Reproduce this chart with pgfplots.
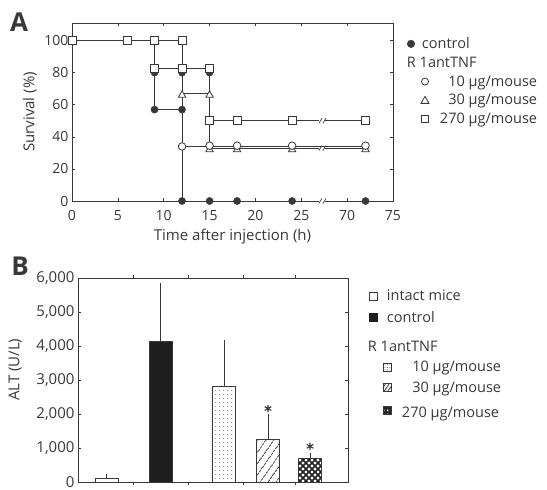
\documentclass[border=0pt]{standalone}
\usepackage{fontspec}
\setmainfont{Open Sans}
\usepackage{pgfplots}
\pgfplotsset{compat=1.18}
\usetikzlibrary{patterns,patterns.meta}
\definecolor{ink}{gray}{0.22}
\newcommand\ls{\rule[-3.5pt]{0pt}{13.5pt}}
\newcommand\lbox[1]{\path[draw=none,fill=none] (0pt,-5pt) rectangle (#1,5pt);}
\begin{document}
\begin{tikzpicture}
\path[use as bounding box] (0pt,0pt) rectangle (547pt,-490pt);
\node[font=\fontsize{26}{28}\selectfont\bfseries, text=ink] at (19pt,-22pt) {A};
\node[font=\fontsize{26}{28}\selectfont\bfseries, text=ink] at (20pt,-266pt) {B};
% ---------------- Panel A
\begin{axis}[
  at={(72pt,-201pt)}, anchor=south west, scale only axis,
  width=321pt, height=178pt,
  xmin=0, xmax=35, ymin=0, ymax=111,
  xtick={0,5,...,35}, xticklabels={0,5,10,15,20,25,70,75},
  ytick={0,20,...,100},
  tick align=inside, major tick length=3pt,
  axis line style={ink, line width=0.7pt}, tick style={ink, line width=0.6pt},
  ticklabel style={font=\fontsize{14}{16}\selectfont, text=ink},
  xticklabel style={yshift=-5.5pt},
  /pgf/number format/assume math mode=true,
  xlabel={Time after injection (h)}, ylabel={Survival (\%)},
  label style={font=\fontsize{15}{17}\selectfont, text=ink},
  xlabel style={at={(axis description cs:0.5,-0.197)}, anchor=center},
  ylabel style={at={(axis description cs:-0.131,0.5)}, anchor=center},
  clip=false,
  legend style={at={(axis description cs:1.0218,0.918)}, anchor=north west,
    draw=none, fill=none, inner sep=0pt, outer sep=0pt,
    nodes={inner sep=0pt, text=ink, font=\fontsize{14.5}{16}\selectfont},
    column sep=10pt, row sep=6.8pt},
  legend cell align=left,
]
% lines
\addplot[ink, line width=0.8pt, forget plot] coordinates {(0,100)(9,100)(9,57)(12,57)(12,0)(32,0)};
\addplot[ink, line width=0.8pt, forget plot] coordinates {(0,100)(9,100)(9,83)(12,83)(12,34)(32,34)};
\addplot[ink, line width=0.8pt, forget plot] coordinates {(0,100)(9,100)(9,83)(12,83)(12,67)(15,67)(15,33)(32,33)};
\addplot[ink, line width=0.8pt, forget plot] coordinates {(0,100)(12,100)(12,83)(15,83)(15,50)(32,50)};
% break marks
\foreach \yy in {50,33,0}{
  \edef\tmp{\noexpand\fill[white] ([xshift=-3pt,yshift=-1.5pt]axis cs:27.3,\yy) rectangle ([xshift=3pt,yshift=1.5pt]axis cs:27.3,\yy);
  \noexpand\draw[ink, line width=0.7pt] ([xshift=-3.5pt,yshift=-2.5pt]axis cs:27.3,\yy) -- ++(3pt,5pt);
  \noexpand\draw[ink, line width=0.7pt] ([xshift=0.5pt,yshift=-2.5pt]axis cs:27.3,\yy) -- ++(3pt,5pt);}\tmp
}
% marks
\addplot[only marks, mark=*, mark size=3.5pt, color=ink, forget plot] coordinates {(9,80)(12,80)(15,80)};
\addplot[only marks, mark=square*, mark size=4pt, mark options={fill=white, draw=ink, line width=0.8pt}, forget plot] coordinates {(0,100)(6,100)(9,100)(12,100)(9,83)(12,83)(15,83)(15,50)(18,50)(24,50)(32,50)};
\addplot[only marks, mark=triangle*, mark size=4.3pt, mark options={fill=white, draw=ink, line width=0.8pt}, forget plot] coordinates {(12,66)(15,66)(15,32)(18,32)(24,32)(32,32)};
\addplot[only marks, mark=*, mark size=3.8pt, mark options={fill=white, draw=ink, line width=0.8pt}, forget plot] coordinates {(12,34)(15,34.5)(18,34.5)(24,34.5)(32,34.5)};
\addplot[only marks, mark=*, mark size=3.6pt, color=ink, forget plot] coordinates {(9,57)(12,57)(12,0)(15,0)(18,0)(24,0)(32,0)};
% legend
\addlegendimage{legend image code/.code={\lbox{30pt} \fill[ink] (11pt,0pt) circle (3.8pt);}}
\addlegendentry{\ls\hspace*{-18pt}control}
\addlegendimage{legend image code/.code={\lbox{30pt}}}
\addlegendentry{\ls\hspace*{-33pt}R 1antTNF}
\addlegendimage{legend image code/.code={\lbox{30pt} \draw[ink, line width=0.8pt, fill=none] (25pt,0pt) circle (3.5pt);}}
\addlegendentry{\ls\phantom{2}10 µg/mouse}
\addlegendimage{legend image code/.code={\lbox{30pt} \draw[ink, line width=0.8pt, fill=none] (21pt,-3pt) -- (29pt,-3pt) -- (25pt,4pt) -- cycle;}}
\addlegendentry{\ls\phantom{2}30 µg/mouse}
\addlegendimage{legend image code/.code={\lbox{30pt} \draw[ink, line width=0.8pt, fill=none] (21.5pt,-3.5pt) rectangle (28.5pt,3.5pt);}}
\addlegendentry{\ls 270 µg/mouse}
\end{axis}
% ---------------- Panel B
\begin{axis}[
  at={(78pt,-482pt)}, anchor=south west, scale only axis,
  width=270pt, height=204pt,
  xmin=0, xmax=27, ymin=0, ymax=6000,
  ytick={0,1000,...,6000}, scaled y ticks=false,
  xtick={5.5,11,16.5,21.7}, xticklabels={},
  yticklabel style={/pgf/number format/.cd, 1000 sep={,}},
  tick align=inside, major tick length=3pt,
  axis line style={ink, line width=0.8pt}, tick style={ink, line width=0.6pt},
  ticklabel style={font=\fontsize{15}{17}\selectfont, text=ink},
  /pgf/number format/assume math mode=true,
  ylabel={ALT (U/L)},
  label style={font=\fontsize{15}{17}\selectfont, text=ink},
  ylabel style={at={(axis description cs:-0.233,0.55)}, anchor=center},
  ybar, bar width=23pt, bar shift=0pt,
  clip=false,
  legend style={at={(axis description cs:1.0444,0.94)}, anchor=north west,
    draw=none, fill=none, inner sep=0pt, outer sep=0pt,
    nodes={inner sep=0pt, text=ink, font=\fontsize{14.5}{16}\selectfont},
    column sep=10pt, row sep=8.6pt},
  legend cell align=left,
  error bars/error bar style={ink, line width=0.9pt},
  error bars/error mark options={ink, line width=0.9pt, mark size=2.5pt},
]
\addplot[bar shift=0pt, draw=ink, line width=0.8pt, fill=white, forget plot,
  error bars/.cd, y dir=plus, y explicit] coordinates {(2.87,100) +- (0,50)};
\addplot[bar shift=0pt, draw=ink, line width=0.8pt, fill=black!88, forget plot,
  error bars/.cd, y dir=plus, y explicit] coordinates {(8.25,4150) +- (0,1620)};
\addplot[bar shift=0pt, draw=ink, line width=0.8pt, fill=white,
  postaction={pattern={Dots[distance=4pt, radius=0.6pt]}, pattern color=black!60}, forget plot,
  error bars/.cd, y dir=plus, y explicit] coordinates {(14.6,2800) +- (0,1310)};
\addplot[bar shift=0pt, draw=ink, line width=0.8pt, fill=white,
  postaction={pattern={Lines[angle=55, distance=6.5pt, line width=0.9pt]}, pattern color=ink}, forget plot,
  error bars/.cd, y dir=plus, y explicit] coordinates {(19.0,1260) +- (0,670)};
\addplot[bar shift=0pt, draw=ink, line width=0.8pt, fill=black!85,
  postaction={pattern={Dots[distance=6pt, radius=1.6pt]}, pattern color=white},
  postaction={pattern={Dots[distance=6pt, radius=1.6pt, xshift=3pt, yshift=3pt]}, pattern color=white}, forget plot,
  error bars/.cd, y dir=plus, y explicit] coordinates {(23.2,680) +- (0,110)};
\addplot[only marks, mark=asterisk, mark size=3.8pt, mark options={ink, line width=1.1pt}, forget plot] coordinates {(19.0,2160)(23.2,1050)};
% legend
\addlegendimage{legend image code/.code={\lbox{32pt} \draw[ink, line width=0.8pt, fill=white] (9pt,-4pt) rectangle (17pt,4pt);}}
\addlegendentry{\ls\hspace*{-15pt}intact mice}
\addlegendimage{legend image code/.code={\lbox{32pt} \fill[black!88] (9pt,-4pt) rectangle (17pt,4pt);}}
\addlegendentry{\ls\hspace*{-15pt}control}
\addlegendimage{legend image code/.code={\lbox{32pt}}}
\addlegendentry{\rule{0pt}{19pt}\ls\hspace*{-34pt}R 1antTNF}
\addlegendimage{legend image code/.code={\lbox{32pt} \draw[ink, line width=0.8pt, fill=white, postaction={pattern={Dots[distance=2.5pt, radius=0.5pt]}, pattern color=black!65}] (23pt,-4pt) rectangle (31pt,4pt);}}
\addlegendentry{\ls\phantom{2}\hspace*{2pt}10 µg/mouse}
\addlegendimage{legend image code/.code={\lbox{32pt} \draw[ink, line width=0.8pt, fill=white, postaction={pattern={Lines[angle=55, distance=3pt, line width=0.8pt]}, pattern color=ink}] (23pt,-4pt) rectangle (31pt,4pt);}}
\addlegendentry{\ls\phantom{2}\hspace*{2pt}30 µg/mouse}
\addlegendimage{legend image code/.code={\lbox{32pt} \draw[ink, line width=0.8pt, fill=black!85, postaction={pattern={Dots[distance=4pt, radius=1pt]}, pattern color=white}] (23pt,-4pt) rectangle (31pt,4pt);}}
\addlegendentry{\rule{0pt}{15pt}\ls 270 µg/mouse}
\end{axis}
\end{tikzpicture}
\end{document}
